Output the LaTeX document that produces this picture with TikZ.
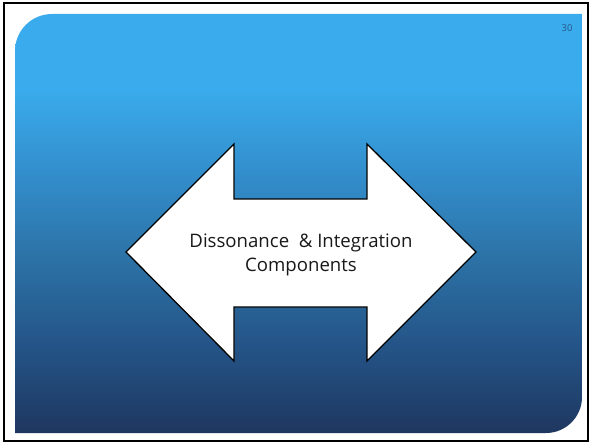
\documentclass[tikz,border=0pt]{standalone}
\usepackage{fontspec}
\setmainfont{Open Sans}
\begin{document}
\begin{tikzpicture}[x=1pt,y=-1pt,
  frame/.style={draw=black,line width=2.2pt},
  panel/.style={shading=panelshade},
  bigarrow/.style={fill=white,draw=black,line width=1.3pt,line join=miter},
  caption/.style={font=\fontsize{18.6}{24}\selectfont,align=center,text=black!90},
  pagenum/.style={font=\fontsize{9.5}{11}\selectfont,text=numcol}]
\definecolor{numcol}{RGB}{38,86,135}
% the path box covers the middle 25bp--75bp of the shading
\pgfdeclareverticalshading{panelshade}{100bp}{
  rgb(0bp)=(0.118,0.216,0.373);
  rgb(25bp)=(0.118,0.216,0.373);
  rgb(35bp)=(0.141,0.325,0.525);
  rgb(45.5bp)=(0.173,0.443,0.647);
  rgb(56bp)=(0.2,0.557,0.8);
  rgb(66bp)=(0.227,0.671,0.925);
  rgb(100bp)=(0.227,0.671,0.925)}
\useasboundingbox (0,0) rectangle (592,444);
\fill[white] (0,0) rectangle (592,444);
% outer frame
\draw[frame] (4,3) rectangle (588,441);
% slide panel: rounded top-left and bottom-right corners
\path[panel] (15,51) arc[start angle=180,end angle=270,radius=37] -- (582,14) -- (582,397)
  arc[start angle=0,end angle=90,radius=36] -- (15,433) -- cycle;
% double-headed block arrow
\coordinate (lt) at (126,252);
\coordinate (rt) at (476,252);
\draw[bigarrow] (lt) -- (234,144) -- (234,199) -- (367,199) -- (367,144) -- (rt)
  -- (367,361) -- (367,307) -- (234,307) -- (234,361) -- cycle;
\node[caption] (cap) at (301,255) {Dissonance \ \& Integration\\Components};
\node[pagenum] (pg) at (567,28) {30};
\end{tikzpicture}
\end{document}
